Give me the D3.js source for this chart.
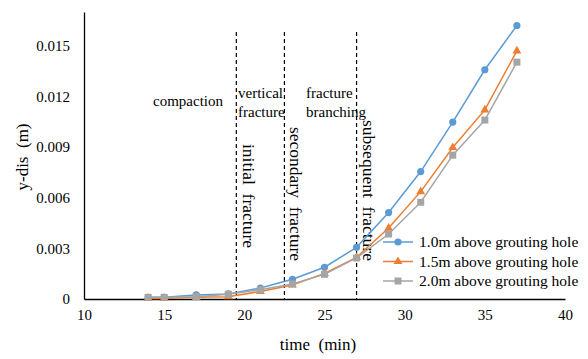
<!DOCTYPE html>
<html><head><meta charset="utf-8">
<script src="https://cdn.jsdelivr.net/npm/d3@7"></script>
<style>body{margin:0;background:#fff}svg text{font-family:"Liberation Serif","Times New Roman","DejaVu Serif",serif !important}</style>
</head><body><svg id="c" width="588" height="359"></svg>
<script>
const times = [14, 15, 17, 19, 21, 23, 25, 27, 29, 31, 33, 35, 37];
const s10 = [0.0001, 0.0001, 0.00024, 0.0003, 0.00065, 0.00117, 0.00188, 0.00306, 0.00512, 0.00755, 0.01048, 0.01358, 0.0162];
const s15 = [0.00003, 0.00003, 0.0001, 0.00014, 0.00045, 0.00083, 0.00152, 0.00247, 0.0042, 0.00636, 0.00897, 0.0112, 0.0147];
const s20 = [0.0001, 0.0001, 0.00014, 0.00028, 0.00055, 0.00089, 0.00146, 0.00243, 0.00385, 0.00573, 0.00852, 0.0106, 0.01403];
const seriesNames = ["1.0m above grouting hole", "1.5m above grouting hole", "2.0m above grouting hole"];
const seriesColors = ["#5B9BD5", "#ED7D31", "#A5A5A5"];
const markerTypes = ["circle", "triangle", "square"];
const xTicks = [10, 15, 20, 25, 30, 35, 40];
const yTicks = [0, 0.003, 0.006, 0.009, 0.012, 0.015];
const yTickLabels = ["0", "0.003", "0.006", "0.009", "0.012", "0.015"];
const phaseLines = [19.5, 22.5, 27];

const svg = d3.select("#c");
const x = d3.scaleLinear().domain([10, 40]).range([84, 565]);
const y = d3.scaleLinear().domain([0, 0.017]).range([299, 12]);

// axes
const xAxis = d3.axisBottom(x).tickValues(xTicks).tickSize(0).tickPadding(10).tickFormat(d3.format("d"));
const gx = svg.append("g").attr("transform", "translate(0,299)").call(xAxis).attr("font-family", null);
gx.select(".domain").attr("stroke", "#000").attr("stroke-width", 1.3);
gx.selectAll("text").attr("font-size", 15).attr("fill", "#000");

const yAxis = d3.axisLeft(y).tickValues(yTicks).tickSize(0).tickPadding(14).tickFormat((d, i) => yTickLabels[i]);
const gy = svg.append("g").attr("transform", "translate(84,0)").call(yAxis).attr("font-family", null);
gy.select(".domain").attr("stroke", "#000").attr("stroke-width", 1.3);
gy.selectAll("text").attr("font-size", 15).attr("fill", "#000");

// phase lines
svg.selectAll(".phase").data(phaseLines).enter().append("line")
  .attr("x1", d => x(d)).attr("x2", d => x(d)).attr("y1", 32).attr("y2", 299)
  .attr("stroke", "#000").attr("stroke-width", 1.2).attr("stroke-dasharray", "4,3");

// annotations
const ann = svg.append("g").attr("font-size", 15).attr("fill", "#000");
ann.append("text").attr("x", 188).attr("y", 106).attr("text-anchor", "middle").text("compaction");
ann.append("text").attr("x", 238).attr("y", 98).text("vertical");
ann.append("text").attr("x", 238).attr("y", 117).text("fracture");
ann.append("text").attr("x", 306).attr("y", 98).text("fracture");
ann.append("text").attr("x", 306).attr("y", 117).text("branching");
const rot = [["initial  fracture", 243, 144], ["secondary  fracture", 290, 127], ["subsequent  fracture", 363, 120]];
rot.forEach(r => {
  ann.append("text").attr("transform", `translate(${r[1]},${r[2]}) rotate(90)`)
    .attr("font-size", 17.5).style("white-space", "pre").text(r[0]);
});

// series
const all = [s10, s15, s20];
const line = d3.line().x((d, i) => x(times[i])).y(d => y(d));
function marker(g, type, cx, cy, color) {
  if (type === "circle") g.append("circle").attr("cx", cx).attr("cy", cy).attr("r", 3.6).attr("fill", color);
  else if (type === "triangle") g.append("path").attr("d", d3.symbol(d3.symbolTriangle, 34)()).attr("transform", `translate(${cx},${cy})`).attr("fill", color);
  else g.append("rect").attr("x", cx - 3.5).attr("y", cy - 3.5).attr("width", 7).attr("height", 7).attr("fill", color);
}
all.forEach((vals, k) => {
  const g = svg.append("g");
  g.append("path").attr("d", line(vals)).attr("fill", "none").attr("stroke", seriesColors[k]).attr("stroke-width", 1.5);
  vals.forEach((v, i) => marker(g, markerTypes[k], x(times[i]), y(v), seriesColors[k]));
});

// legend
const lg = svg.append("g");
seriesNames.forEach((n, k) => {
  const yy = 242 + k * 19.5;
  lg.append("line").attr("x1", 383).attr("x2", 413).attr("y1", yy).attr("y2", yy).attr("stroke", seriesColors[k]).attr("stroke-width", 1.5);
  marker(lg, markerTypes[k], 398, yy, seriesColors[k]);
  lg.append("text").attr("x", 419).attr("y", yy + 5).attr("font-size", 15.5).attr("fill", "#000").text(n);
});

// axis titles
svg.append("text").attr("x", 318).attr("y", 350).attr("text-anchor", "middle").attr("font-size", 17).style("white-space", "pre").text("time  (min)");
svg.append("text").attr("transform", "translate(28,157) rotate(-90)").attr("text-anchor", "middle").attr("font-size", 17).style("white-space", "pre").text("y-dis  (m)");
</script></body></html>
